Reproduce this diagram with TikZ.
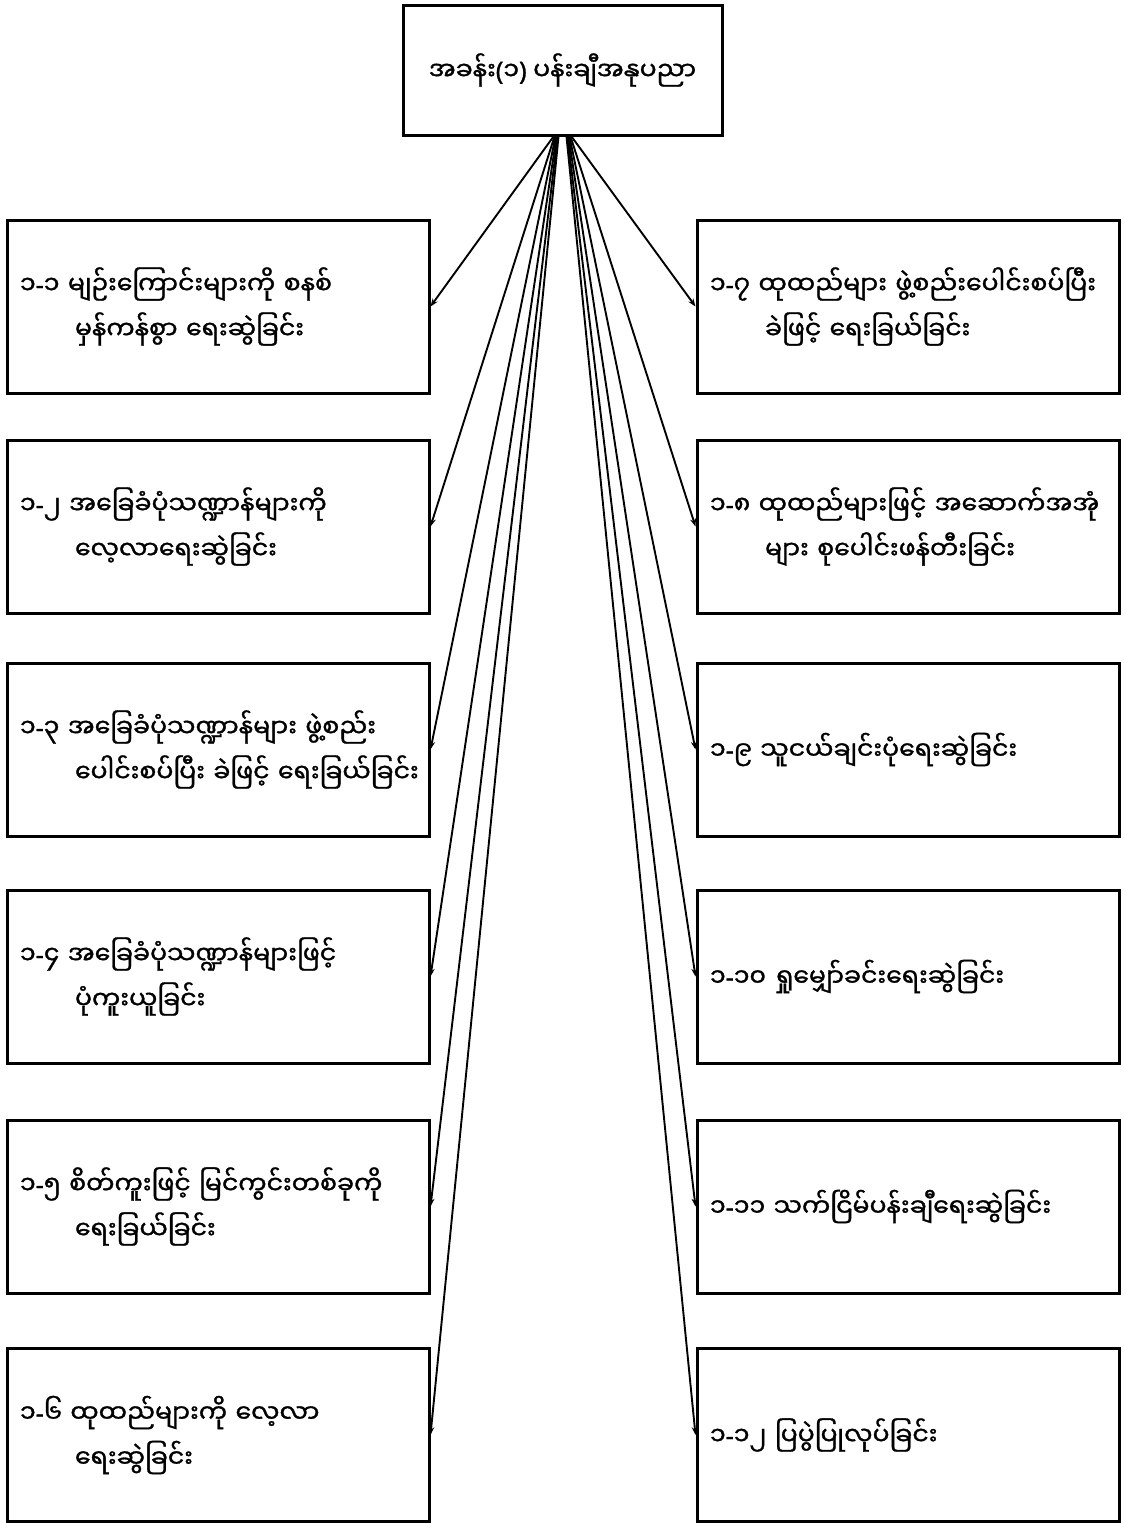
\documentclass[tikz,border=0pt]{standalone}
\usepackage{fontspec}
\newfontfamily\mm[Script=Myanmar,FakeBold=1.2]{Noto Sans Myanmar UI}
\newfontfamily\latf[FakeBold=1.2]{Noto Sans}
\newcommand{\mmhy}{{\latf -}}
\newcommand{\mmlp}{{\latf (}}
\newcommand{\mmrp}{{\latf )}}
\newcommand{\twolines}[2]{\mbox{#1}\\\hspace*{55pt}\mbox{#2}}
\usetikzlibrary{arrows.meta}
\begin{document}
\begin{tikzpicture}[x=1pt,y=-1pt,
  box/.style={draw, line width=3pt, minimum width=422pt, minimum height=173pt,
    text width=396pt, inner xsep=13pt, align=left, font=\mm\fontsize{25.2}{45}\selectfont},
  topbox/.style={draw, line width=3pt, minimum width=319pt, minimum height=130pt,
    align=center, font=\mm\fontsize{25.2}{45}\selectfont},
  conn/.style={line width=1.9pt, -{Stealth[length=8pt,width=6pt]}}]
\useasboundingbox (0,0) rectangle (1124,1523);
\node[topbox] (top) at (562.5,70) {အခန်း\mmlp ၁\mmrp\ ပန်းချီအနုပညာ};
\node[box] (l1) at (218,306.5) {\twolines{၁\mmhy ၁ မျဉ်းကြောင်းများကို စနစ်}{မှန်ကန်စွာ ရေးဆွဲခြင်း}};
\node[box] (l2) at (218,526.5) {\twolines{၁\mmhy ၂ အခြေခံပုံသဏ္ဍာန်များကို}{လေ့လာရေးဆွဲခြင်း}};
\node[box] (l3) at (218,749.5) {\twolines{၁\mmhy ၃ အခြေခံပုံသဏ္ဍာန်များ ဖွဲ့စည်း}{ပေါင်းစပ်ပြီး ခဲဖြင့် ရေးခြယ်ခြင်း}};
\node[box] (l4) at (218,976.5) {\twolines{၁\mmhy ၄ အခြေခံပုံသဏ္ဍာန်များဖြင့်}{ပုံကူးယူခြင်း}};
\node[box] (l5) at (218,1206.5) {\twolines{၁\mmhy ၅ စိတ်ကူးဖြင့် မြင်ကွင်းတစ်ခုကို}{ရေးခြယ်ခြင်း}};
\node[box] (l6) at (218,1435) {\twolines{၁\mmhy ၆ ထုထည်များကို လေ့လာ}{ရေးဆွဲခြင်း}};
\node[box] (r1) at (908,306.5) {\twolines{၁\mmhy ၇ ထုထည်များ ဖွဲ့စည်းပေါင်းစပ်ပြီး}{ခဲဖြင့် ရေးခြယ်ခြင်း}};
\node[box] (r2) at (908,526.5) {\twolines{၁\mmhy ၈ ထုထည်များဖြင့် အဆောက်အအုံ}{များ စုပေါင်းဖန်တီးခြင်း}};
\node[box] (r3) at (908,749.5) {\mbox{၁\mmhy ၉ သူငယ်ချင်းပုံရေးဆွဲခြင်း}};
\node[box] (r4) at (908,976.5) {\mbox{၁\mmhy ၁၀ ရှုမျှော်ခင်းရေးဆွဲခြင်း}};
\node[box] (r5) at (908,1206.5) {\mbox{၁\mmhy ၁၁ သက်ငြိမ်ပန်းချီရေးဆွဲခြင်း}};
\node[box] (r6) at (908,1435) {\mbox{၁\mmhy ၁၂ ပြပွဲပြုလုပ်ခြင်း}};
\foreach \i/\dx in {1/-9,2/-8,3/-7,4/-6,5/-5,6/-4} {
  \draw[conn] ([xshift=\dx pt]top.south) -- (l\i.east);
}
\foreach \i/\dx in {1/9,2/8,3/7,4/6,5/5,6/4} {
  \draw[conn] ([xshift=\dx pt]top.south) -- (r\i.west);
}
\end{tikzpicture}
\end{document}
